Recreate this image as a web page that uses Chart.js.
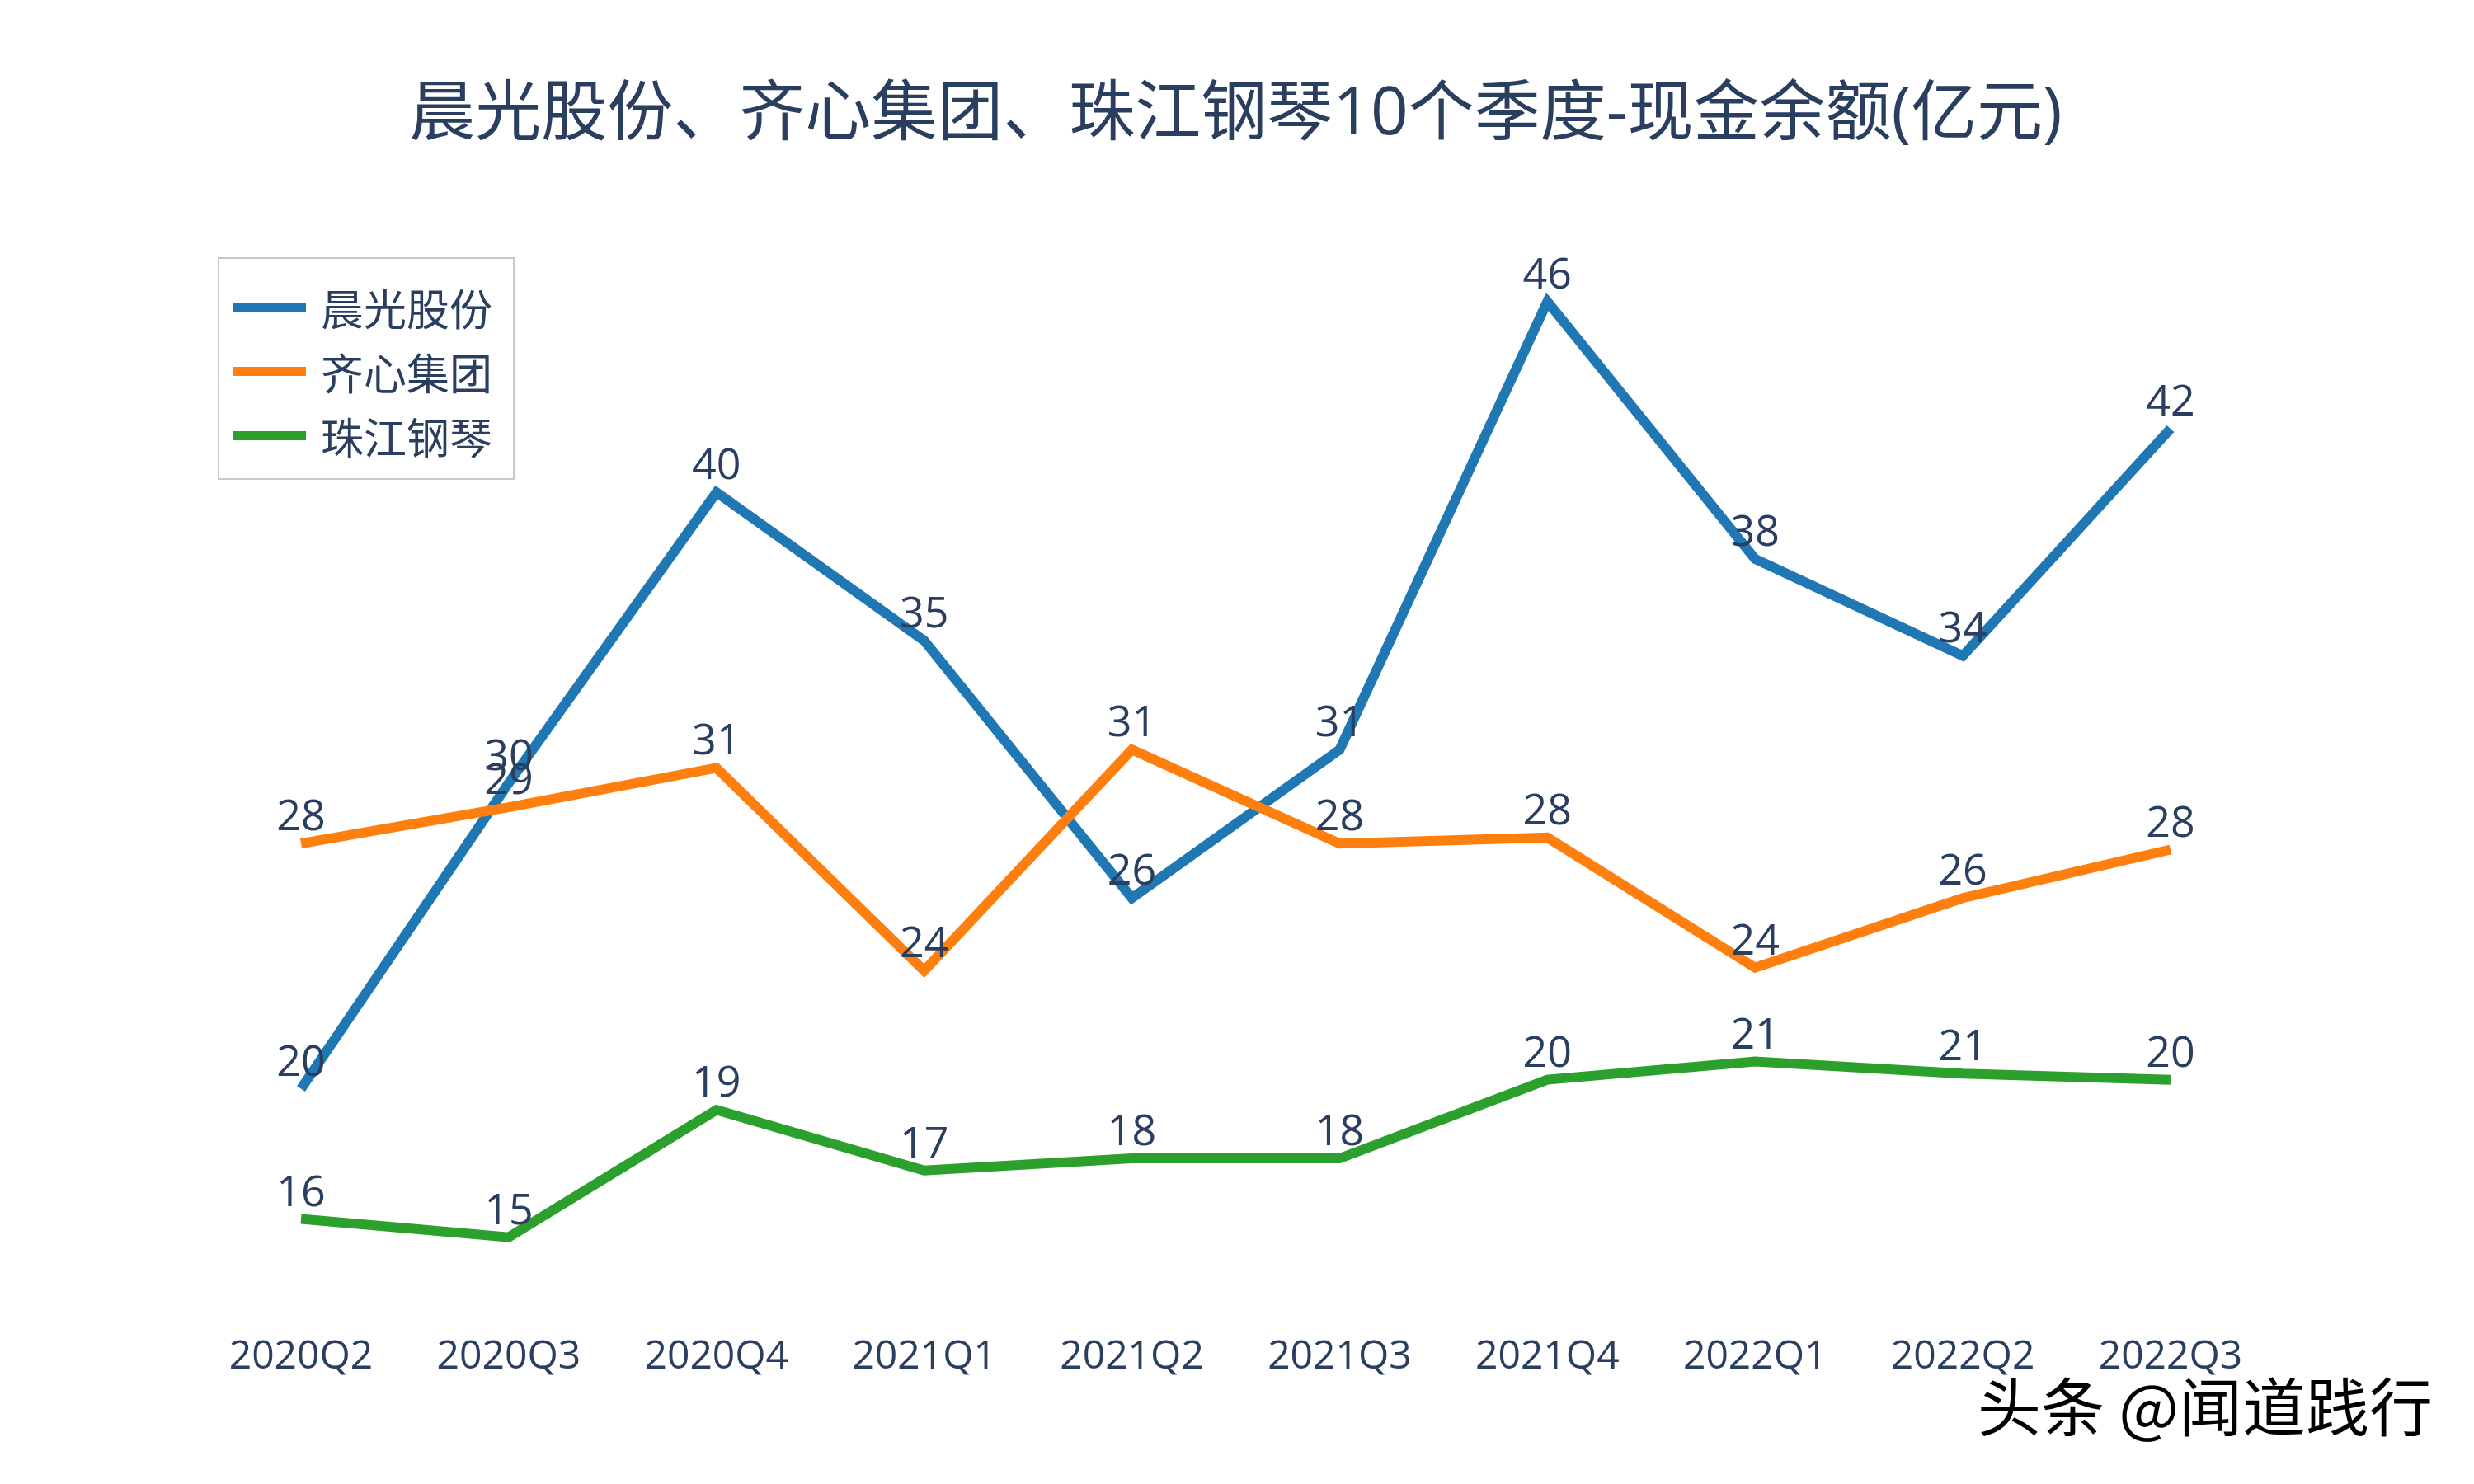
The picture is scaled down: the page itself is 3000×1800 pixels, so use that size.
<!DOCTYPE html>
<html>
<head>
<meta charset="utf-8">
<script src="https://cdn.jsdelivr.net/npm/chart.js@4"></script>
<style>
  body { margin: 0; background: #fff; }
  #wrap { position: relative; width: 3000px; height: 1800px; }
  #legend {
    position: absolute; left: 264px; top: 312px; width: 356px; height: 266px;
    border: 2px solid #c8c8c8; background: #fff; box-sizing: content-box;
  }
  .item { position: absolute; left: 0; height: 60px; display: flex; align-items: center; }
  .swatch { width: 88px; height: 11px; margin-left: 17px; margin-right: 18px; }
  .item span { font: 52px "Noto Sans CJK SC", sans-serif; color: #2a3f5f; }
</style>
</head>
<body>
<div id="wrap">
  <canvas id="chart" width="3000" height="1800"></canvas>
  <div id="legend"></div>
</div>
<script>
const quarters = ["2020Q2", "2020Q3", "2020Q4", "2021Q1", "2021Q2", "2021Q3", "2021Q4", "2022Q1", "2022Q2", "2022Q3"];
const chenguang = [20.1, 30.2, 39.8, 34.9, 26.4, 31.3, 46.1, 37.6, 34.4, 41.9];
const qixin = [28.2, 29.4, 30.7, 24.0, 31.3, 28.2, 28.4, 24.1, 26.4, 28.0];
const zhujiang = [15.8, 15.2, 19.4, 17.4, 17.8, 17.8, 20.4, 21.0, 20.6, 20.4];

const seriesNames = ["晨光股份", "齐心集团", "珠江钢琴"];
const seriesColors = ["#1f77b4", "#ff7f0e", "#2ca02c"];
const seriesData = [chenguang, qixin, zhujiang];

const textColor = "#2a3f5f";
const latinFont = '"Open Sans", "Noto Sans CJK SC", sans-serif';

// value labels above every point, plotly "top center" style
const pointLabels = {
  id: "pointLabels",
  afterDatasetsDraw(chart) {
    const ctx = chart.ctx;
    ctx.save();
    ctx.font = "52px " + latinFont;
    ctx.fillStyle = textColor;
    ctx.textAlign = "center";
    ctx.textBaseline = "alphabetic";
    chart.data.datasets.forEach((ds, i) => {
      chart.getDatasetMeta(i).data.forEach((pt, j) => {
        ctx.fillText(Math.round(ds.data[j]).toString(), pt.x, pt.y - 16);
      });
    });
    ctx.restore();
  },
};

const watermark = {
  id: "watermark",
  afterDraw(chart) {
    const ctx = chart.ctx;
    ctx.save();
    ctx.font = '77px "Noto Sans CJK SC", sans-serif';
    ctx.textAlign = "left";
    ctx.textBaseline = "alphabetic";
    ctx.lineWidth = 6;
    ctx.strokeStyle = "#fff";
    ctx.strokeText("头条 @闻道践行", 2398, 1736);
    ctx.fillStyle = "#000";
    ctx.fillText("头条 @闻道践行", 2398, 1736);
    ctx.restore();
  },
};

new Chart(document.getElementById("chart"), {
  type: "line",
  data: {
    labels: quarters,
    datasets: seriesNames.map((name, i) => ({
      label: name,
      data: seriesData[i],
      borderColor: seriesColors[i],
      backgroundColor: seriesColors[i],
      borderWidth: 12,
      pointRadius: 0,
      tension: 0,
      clip: false,
      order: 2 - i,
    })),
  },
  options: {
    responsive: false,
    animation: false,
    layout: { padding: { left: 365, right: 368, top: 0, bottom: 89 } },
    scales: {
      x: {
        offset: false,
        grid: { display: false, drawTicks: false },
        border: { display: false },
        ticks: { color: textColor, font: { size: 48, family: latinFont }, padding: 36, maxRotation: 0, autoSkip: false },
      },
      y: { display: false, min: 13, max: 48 },
    },
    plugins: {
      legend: { display: false },
      tooltip: { enabled: false },
      title: {
        display: true,
        text: "晨光股份、齐心集团、珠江钢琴10个季度-现金余额(亿元)",
        color: textColor,
        font: { size: 80, family: latinFont, weight: "normal" },
        padding: { top: 92, bottom: 108 },
      },
    },
  },
  plugins: [pointLabels, watermark],
});

const legend = document.getElementById("legend");
seriesNames.forEach((name, i) => {
  const item = document.createElement("div");
  item.className = "item";
  item.style.top = (28 + i * 78) + "px";
  const sw = document.createElement("div");
  sw.className = "swatch";
  sw.style.background = seriesColors[i];
  const label = document.createElement("span");
  label.textContent = name;
  item.appendChild(sw);
  item.appendChild(label);
  legend.appendChild(item);
});
</script>
</body>
</html>
